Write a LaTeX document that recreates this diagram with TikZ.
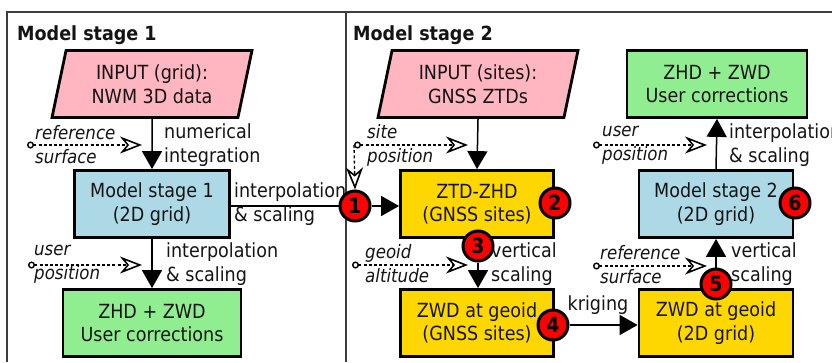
\documentclass[tikz,border=0pt]{standalone}
\usepackage{fontspec}
\setmainfont{DejaVu Sans Condensed}
\usetikzlibrary{arrows.meta,shapes.geometric,calc}
\definecolor{inpink}{RGB}{255,182,193}
\definecolor{gridblue}{RGB}{173,216,230}
\definecolor{outgreen}{RGB}{144,238,144}
\definecolor{stepgold}{RGB}{255,215,0}
\definecolor{framegray}{RGB}{60,60,60}
\begin{document}
\begin{tikzpicture}[x=1pt,y=-1pt,
  every node/.style={font=\fontsize{19.5}{23.5}\selectfont, text=black!92},
  box/.style={draw, line width=2.8pt, align=center, inner sep=0pt,
    minimum height=67pt},
  para/.style={draw, line width=2.8pt, align=center, fill=inpink,
    shape=trapezium, trapezium left angle=70, trapezium right angle=110,
    trapezium stretches body, minimum height=67pt, minimum width=200pt, inner sep=0pt},
  badge/.style={circle, draw, fill=red, line width=3pt, minimum size=30pt,
    inner sep=0pt, font=\fontsize{21}{23}\selectfont\bfseries, text=black},
  lbl/.style={anchor=west, align=left, inner sep=0pt},
  ilbl/.style={lbl, font=\fontsize{18.5}{24}\selectfont\itshape},
  flow/.style={line width=1.5pt, -{Triangle[length=18pt,width=20pt]}},
  hint/.style={line width=1.3pt, dash pattern=on 3pt off 2.2pt,
    {Circle[open,length=7pt,width=7pt,line width=1.4pt]}-{Stealth[length=22pt,width=17pt,inset=7pt,fill=white,line width=1.6pt]}},
  hintv/.style={line width=1.3pt, dash pattern=on 3pt off 2.2pt,
    -{Stealth[length=22pt,width=17pt,inset=7pt,fill=white,line width=1.6pt]}}
]
\useasboundingbox (0,0) rectangle (832,362);

% panel frame
\draw[framegray, line width=1.3pt] (7,362) -- (7,12) -- (840,12);
\draw[framegray, line width=1.3pt] (346,12) -- (346,362);
\node[anchor=west, inner sep=0pt, font=\fontsize{19.5}{23}\selectfont\bfseries] (t1) at (17,35) {Model stage 1};
\node[anchor=west, inner sep=0pt, font=\fontsize{19.5}{23}\selectfont\bfseries] (t2) at (353,35) {Model stage 2};

% ---- stage 1 ----
\node[para] (in1) at (152,84) {INPUT (grid):\\NWM 3D data};
\node[box, fill=gridblue, minimum width=155pt] (m1) at (152,204) {Model stage 1\\(2D grid)};
\node[box, fill=outgreen, minimum width=178pt] (u1) at (152,323) {ZHD + ZWD\\User corrections};

\draw[flow] (in1.south) -- (m1.north);
\draw[flow] (m1.south) -- (u1.north);

\node[lbl] (l1) at (164,145) {numerical\\integration};
\node[ilbl] (l2) at (35,145) {reference\\surface};
\coordinate (h1s) at (27,145);
\coordinate (h1e) at (142,145);
\draw[hint] (h1s) -- (h1e);

\node[lbl] (l3) at (166,264) {interpolation\\\&\ scaling};
\node[ilbl] (l4) at (34,264) {user\\position};
\coordinate (h2s) at (28,265);
\coordinate (h2e) at (142,265);
\draw[hint] (h2s) -- (h2e);

\node[lbl] (l5) at (234,204) {interpolation\\\&\ scaling};

% ---- stage 2 ----
\node[para] (in2) at (478,84) {INPUT (sites):\\GNSS ZTDs};
\node[box, fill=stepgold, minimum width=153pt] (ztd) at (477,204) {ZTD-ZHD\\(GNSS sites)};
\node[box, fill=stepgold, minimum width=153pt] (zg) at (477,323) {ZWD at geoid\\(GNSS sites)};
\node[box, fill=outgreen, minimum width=180pt] (u2) at (717,84) {ZHD + ZWD\\User corrections};
\node[box, fill=gridblue, minimum width=154pt] (m2) at (716,204) {Model stage 2\\(2D grid)};
\node[box, fill=stepgold, minimum width=154pt] (zg2) at (716,323) {ZWD at geoid\\(2D grid)};

\draw[flow] (in2.south) -- (ztd.north);
\draw[flow] (m2.north) -- (u2.south);

\node[ilbl] (l6) at (367,145) {site\\position};
\coordinate (h3s) at (354,145);
\coordinate (h3e) at (468,145);
\draw[hint] (h3s) -- (h3e);

\node[ilbl] (l7) at (365,264) {geoid\\altitude};
\coordinate (h4s) at (352,265);
\coordinate (h4e) at (468,265);
\draw[hint] (h4s) -- (h4e);

\node[lbl] (l8) at (491,264) {vertical\\scaling};
\node[lbl, anchor=center] (l9) at (598,305) {kriging};

\node[ilbl] (l10) at (602,145) {user\\position};
\coordinate (h5s) at (593,145);
\coordinate (h5e) at (707,145);
\draw[hint] (h5s) -- (h5e);
\node[lbl] (l11) at (729,145) {interpolation\\\&\ scaling};

\node[ilbl] (l12) at (600,265) {reference\\surface};
\coordinate (h6s) at (593,266);
\coordinate (h6e) at (707,266);
\draw[hint] (h6s) -- (h6e);
\node[lbl] (l13) at (731,264) {vertical\\scaling};

% numbered processing steps
\node[badge] (c1) at (355,206) {1};
\node[badge] (c2) at (555,203) {2};
\node[badge] (c3) at (478,246) {3};
\node[badge] (c4) at (553,325) {4};
\node[badge] (c5) at (716,284) {5};
\node[badge] (c6) at (795,203) {6};

\draw[line width=1.5pt] (m1.east |- c1) -- (c1.west);
\draw[flow] (c1.east) -- (c1 -| ztd.west);
\draw[hintv] (h3s) -- (c1.north);
\draw[flow] (c3.south) -- (c3 |- zg.north);
\draw[flow] (c4.east) -- (c4 -| zg2.west);
\draw[flow] (c5.north) -- (c5 |- m2.south);
\end{tikzpicture}
\end{document}
